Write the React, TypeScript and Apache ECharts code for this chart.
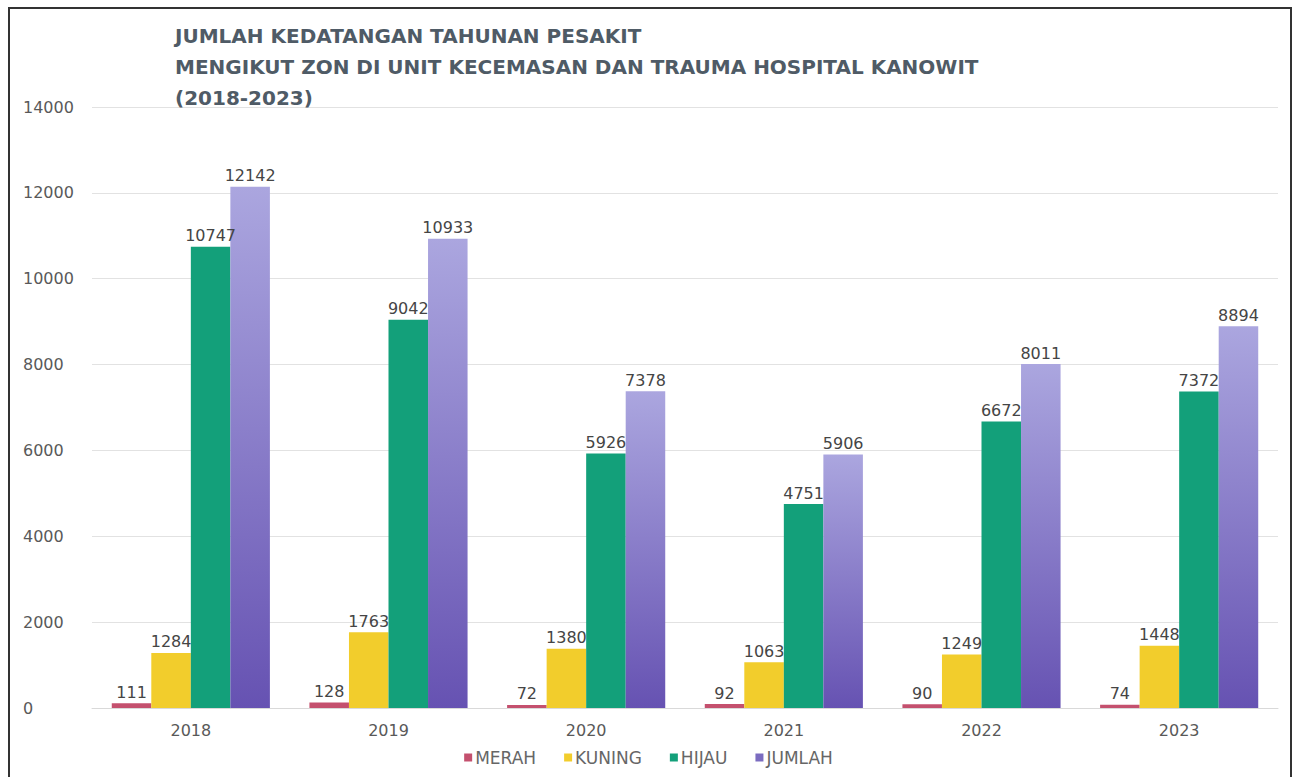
import React, { useEffect, useRef } from "react";
import * as echarts from "echarts";

const years = ["2018", "2019", "2020", "2021", "2022", "2023"];
const merah = [111, 128, 72, 92, 90, 74];
const kuning = [1284, 1763, 1380, 1063, 1249, 1448];
const hijau = [10747, 9042, 5926, 4751, 6672, 7372];
const jumlah = [12142, 10933, 7378, 5906, 8011, 8894];
const seriesNames = ["MERAH", "KUNING", "HIJAU", "JUMLAH"];
const titleLines = [
  "JUMLAH KEDATANGAN TAHUNAN PESAKIT",
  "MENGIKUT ZON DI UNIT KECEMASAN DAN TRAUMA HOSPITAL KANOWIT",
  "(2018-2023)",
];

const labelFont = {
  fontFamily: "DejaVu Sans",
  fontSize: 16,
  color: "#454545",
};

export default function App() {
  const ref = useRef<HTMLDivElement>(null);
  useEffect(() => {
    if (!ref.current) return;
    const chart = echarts.init(ref.current, undefined, { renderer: "svg" });
    const colors = [
      "#c4506e",
      "#f2cd2c",
      "#13a07a",
      new echarts.graphic.LinearGradient(0, 0, 0, 1, [
        { offset: 0, color: "#aba6df" },
        { offset: 1, color: "#6652b2" },
      ]),
    ];
    const dataSets = [merah, kuning, hijau, jumlah];
    chart.setOption({
      animation: false,
      backgroundColor: "#ffffff",
      title: {
        text: titleLines.join("\n"),
        left: 170,
        top: 15,
        textStyle: {
          fontFamily: "DejaVu Sans",
          fontWeight: "bold",
          fontSize: 20,
          color: "#4f5b66",
          lineHeight: 31,
        },
      },
      graphic: [
        {
          type: "rect",
          shape: { x: 9, y: 8, width: 1282, height: 790 },
          style: { fill: "none", stroke: "#333", lineWidth: 2 },
          silent: true,
        },
      ],
      legend: {
        data: seriesNames.map((n, i) => ({ name: n, itemStyle: { color: i === 3 ? "#7b6cc0" : (colors[i] as string) } })),
        bottom: 6,
        left: "center",
        itemWidth: 8,
        itemHeight: 8,
        itemGap: 28,
        icon: "rect",
        textStyle: { fontFamily: "DejaVu Sans", fontSize: 17, color: "#666", padding: [0, 0, 0, -2] },
      },
      grid: { left: 92, right: 19, top: 107, bottom: 69, containLabel: false },
      xAxis: {
        type: "category",
        data: years,
        axisLine: { lineStyle: { color: "#d9d9d9", width: 1 } },
        axisTick: { show: false },
        axisLabel: { ...labelFont, color: "#595959", margin: 14 },
      },
      yAxis: {
        type: "value",
        min: 0,
        max: 14000,
        interval: 2000,
        axisLine: { show: false },
        axisTick: { show: false },
        splitLine: { lineStyle: { color: "#e2e2e2", width: 1 } },
        axisLabel: {
          ...labelFont,
          color: "#595959",
          align: "left",
          margin: 69,
          formatter: (v: number) => String(v),
        },
      },
      series: seriesNames.map((name, i) => ({
        name,
        type: "bar",
        data: dataSets[i],
        barGap: "0%",
        barCategoryGap: "20%",
        itemStyle: { color: colors[i] },
        label: { show: true, position: "top", distance: 3, ...labelFont },
      })),
    });
    return () => chart.dispose();
  }, []);
  return (
    <div
      ref={ref}
      style={{ position: "absolute", left: 0, top: 0, width: 1297, height: 777 }}
    />
  );
}
